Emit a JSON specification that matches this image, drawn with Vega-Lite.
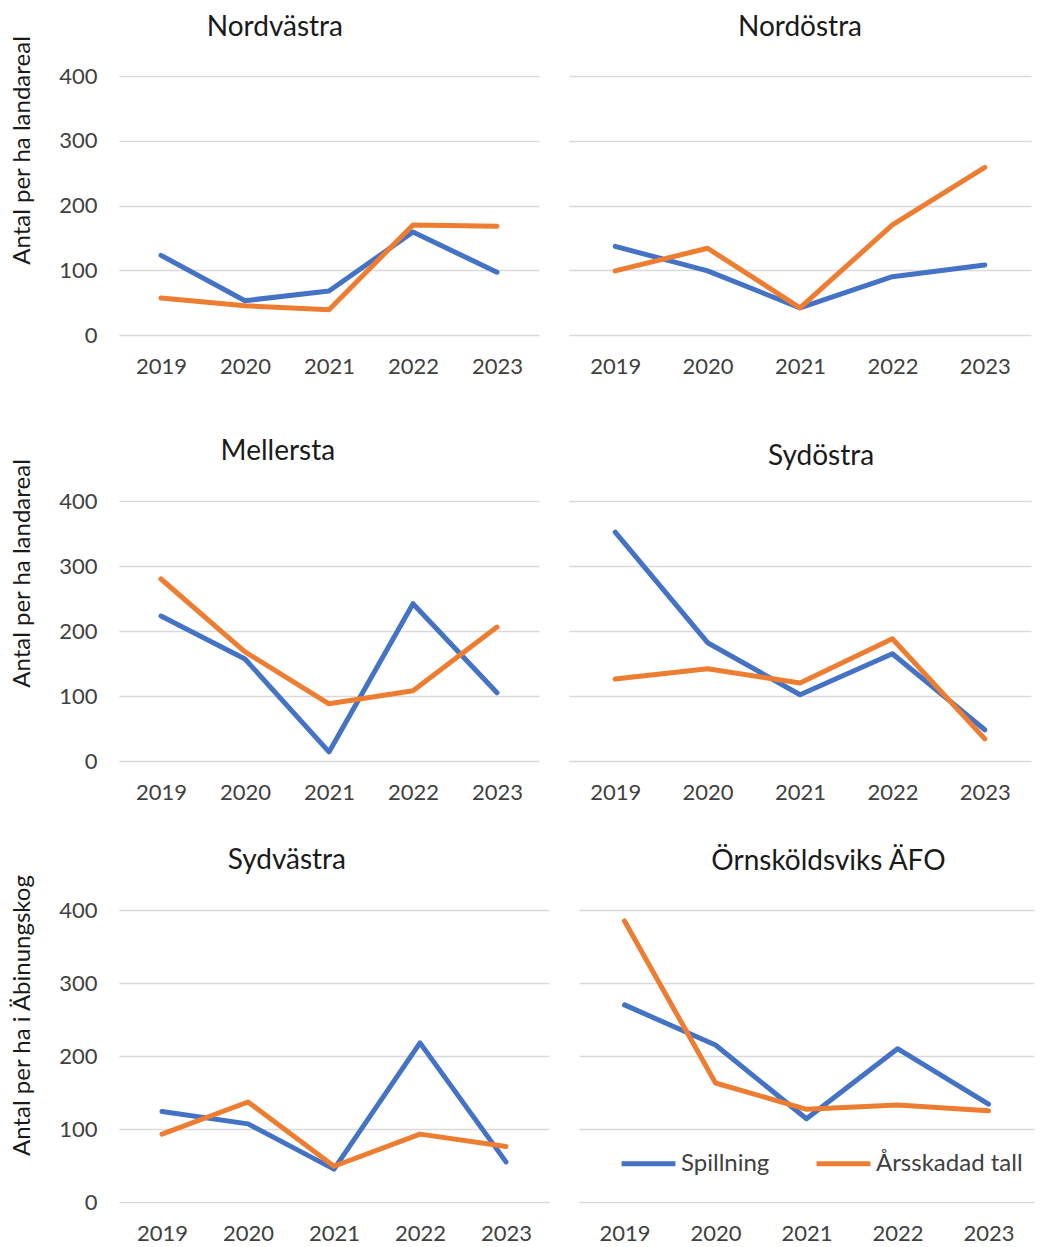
{
  "$schema": "https://vega.github.io/schema/vega-lite/v6.json",
  "padding": {"left": 10, "top": 14, "right": 5, "bottom": 0},
  "background": "white",
  "datasets": {
    "d": [
      {"region": "Nordvästra", "year": "2019", "serie": "Spillning", "value": 123},
      {"region": "Nordvästra", "year": "2020", "serie": "Spillning", "value": 53},
      {"region": "Nordvästra", "year": "2021", "serie": "Spillning", "value": 68},
      {"region": "Nordvästra", "year": "2022", "serie": "Spillning", "value": 159},
      {"region": "Nordvästra", "year": "2023", "serie": "Spillning", "value": 97},
      {"region": "Nordvästra", "year": "2019", "serie": "Årsskadad tall", "value": 57},
      {"region": "Nordvästra", "year": "2020", "serie": "Årsskadad tall", "value": 45},
      {"region": "Nordvästra", "year": "2021", "serie": "Årsskadad tall", "value": 39},
      {"region": "Nordvästra", "year": "2022", "serie": "Årsskadad tall", "value": 170},
      {"region": "Nordvästra", "year": "2023", "serie": "Årsskadad tall", "value": 168},
      {"region": "Nordöstra", "year": "2019", "serie": "Spillning", "value": 137},
      {"region": "Nordöstra", "year": "2020", "serie": "Spillning", "value": 99},
      {"region": "Nordöstra", "year": "2021", "serie": "Spillning", "value": 42},
      {"region": "Nordöstra", "year": "2022", "serie": "Spillning", "value": 90},
      {"region": "Nordöstra", "year": "2023", "serie": "Spillning", "value": 108},
      {"region": "Nordöstra", "year": "2019", "serie": "Årsskadad tall", "value": 99},
      {"region": "Nordöstra", "year": "2020", "serie": "Årsskadad tall", "value": 134},
      {"region": "Nordöstra", "year": "2021", "serie": "Årsskadad tall", "value": 42},
      {"region": "Nordöstra", "year": "2022", "serie": "Årsskadad tall", "value": 170},
      {"region": "Nordöstra", "year": "2023", "serie": "Årsskadad tall", "value": 259},
      {"region": "Mellersta", "year": "2019", "serie": "Spillning", "value": 223},
      {"region": "Mellersta", "year": "2020", "serie": "Spillning", "value": 157},
      {"region": "Mellersta", "year": "2021", "serie": "Spillning", "value": 14},
      {"region": "Mellersta", "year": "2022", "serie": "Spillning", "value": 242},
      {"region": "Mellersta", "year": "2023", "serie": "Spillning", "value": 105},
      {"region": "Mellersta", "year": "2019", "serie": "Årsskadad tall", "value": 280},
      {"region": "Mellersta", "year": "2020", "serie": "Årsskadad tall", "value": 168},
      {"region": "Mellersta", "year": "2021", "serie": "Årsskadad tall", "value": 88},
      {"region": "Mellersta", "year": "2022", "serie": "Årsskadad tall", "value": 108},
      {"region": "Mellersta", "year": "2023", "serie": "Årsskadad tall", "value": 206},
      {"region": "Sydöstra", "year": "2019", "serie": "Spillning", "value": 352},
      {"region": "Sydöstra", "year": "2020", "serie": "Spillning", "value": 182},
      {"region": "Sydöstra", "year": "2021", "serie": "Spillning", "value": 102},
      {"region": "Sydöstra", "year": "2022", "serie": "Spillning", "value": 165},
      {"region": "Sydöstra", "year": "2023", "serie": "Spillning", "value": 48},
      {"region": "Sydöstra", "year": "2019", "serie": "Årsskadad tall", "value": 126},
      {"region": "Sydöstra", "year": "2020", "serie": "Årsskadad tall", "value": 142},
      {"region": "Sydöstra", "year": "2021", "serie": "Årsskadad tall", "value": 120},
      {"region": "Sydöstra", "year": "2022", "serie": "Årsskadad tall", "value": 188},
      {"region": "Sydöstra", "year": "2023", "serie": "Årsskadad tall", "value": 34},
      {"region": "Sydvästra", "year": "2019", "serie": "Spillning", "value": 124},
      {"region": "Sydvästra", "year": "2020", "serie": "Spillning", "value": 107},
      {"region": "Sydvästra", "year": "2021", "serie": "Spillning", "value": 45},
      {"region": "Sydvästra", "year": "2022", "serie": "Spillning", "value": 218},
      {"region": "Sydvästra", "year": "2023", "serie": "Spillning", "value": 55},
      {"region": "Sydvästra", "year": "2019", "serie": "Årsskadad tall", "value": 93},
      {"region": "Sydvästra", "year": "2020", "serie": "Årsskadad tall", "value": 137},
      {"region": "Sydvästra", "year": "2021", "serie": "Årsskadad tall", "value": 49},
      {"region": "Sydvästra", "year": "2022", "serie": "Årsskadad tall", "value": 93},
      {"region": "Sydvästra", "year": "2023", "serie": "Årsskadad tall", "value": 76},
      {"region": "Örnsköldsviks ÄFO", "year": "2019", "serie": "Spillning", "value": 270},
      {"region": "Örnsköldsviks ÄFO", "year": "2020", "serie": "Spillning", "value": 215},
      {"region": "Örnsköldsviks ÄFO", "year": "2021", "serie": "Spillning", "value": 114},
      {"region": "Örnsköldsviks ÄFO", "year": "2022", "serie": "Spillning", "value": 210},
      {"region": "Örnsköldsviks ÄFO", "year": "2023", "serie": "Spillning", "value": 134},
      {"region": "Örnsköldsviks ÄFO", "year": "2019", "serie": "Årsskadad tall", "value": 385},
      {"region": "Örnsköldsviks ÄFO", "year": "2020", "serie": "Årsskadad tall", "value": 163},
      {"region": "Örnsköldsviks ÄFO", "year": "2021", "serie": "Årsskadad tall", "value": 127},
      {"region": "Örnsköldsviks ÄFO", "year": "2022", "serie": "Årsskadad tall", "value": 133},
      {"region": "Örnsköldsviks ÄFO", "year": "2023", "serie": "Årsskadad tall", "value": 125}
    ]
  },
  "data": {"name": "d"},
  "spacing": 43,
  "resolve": {"scale": {"color": "independent", "x": "independent", "y": "independent"}},
  "vconcat": [
    {
      "spacing": 61,
      "resolve": {"scale": {"color": "independent", "x": "independent", "y": "independent"}},
      "vconcat": [
        {
          "spacing": 30,
          "resolve": {"scale": {"color": "independent", "x": "independent", "y": "independent"}},
          "hconcat": [
            {
              "width": 420, "height": 259,
              "title": {"text": "Nordvästra", "frame": "bounds", "offset": -7},
              "transform": [{"filter": "datum.region === 'Nordvästra'"}],
              "mark": {"type": "line", "strokeWidth": 5, "strokeCap": "round", "strokeJoin": "round"},
              "encoding": {
                "x": {"field": "year", "type": "ordinal", "scale": {"type": "point", "padding": 0.5}, "axis": {"title": null}},
                "y": {"field": "value", "type": "quantitative", "scale": {"domain": [0, 400]}, "axis": {"title": "Antal per ha landareal", "titleY": 74, "values": [0, 100, 200, 300, 400]}},
                "color": {"field": "serie", "type": "nominal", "scale": {"domain": ["Spillning", "Årsskadad tall"], "range": ["#4472C4", "#ED7D31"]}, "legend": null}
              }
            },
            {
              "width": 462, "height": 259,
              "title": {"text": "Nordöstra", "offset": 34},
              "transform": [{"filter": "datum.region === 'Nordöstra'"}],
              "mark": {"type": "line", "strokeWidth": 5, "strokeCap": "round", "strokeJoin": "round"},
              "encoding": {
                "x": {"field": "year", "type": "ordinal", "scale": {"type": "point", "padding": 0.5}, "axis": {"title": null}},
                "y": {"field": "value", "type": "quantitative", "scale": {"domain": [0, 400]}, "axis": {"title": null, "labels": false, "values": [0, 100, 200, 300, 400]}},
                "color": {"field": "serie", "type": "nominal", "scale": {"domain": ["Spillning", "Årsskadad tall"], "range": ["#4472C4", "#ED7D31"]}, "legend": null}
              }
            }
          ]
        },
        {
          "spacing": 30,
          "resolve": {"scale": {"color": "independent", "x": "independent", "y": "independent"}},
          "hconcat": [
            {
              "width": 420, "height": 260,
              "title": {"text": "Mellersta", "frame": "bounds", "offset": -8, "dx": 3},
              "transform": [{"filter": "datum.region === 'Mellersta'"}],
              "mark": {"type": "line", "strokeWidth": 5, "strokeCap": "round", "strokeJoin": "round"},
              "encoding": {
                "x": {"field": "year", "type": "ordinal", "scale": {"type": "point", "padding": 0.5}, "axis": {"title": null}},
                "y": {"field": "value", "type": "quantitative", "scale": {"domain": [0, 400]}, "axis": {"title": "Antal per ha landareal", "titleY": 72, "values": [0, 100, 200, 300, 400]}},
                "color": {"field": "serie", "type": "nominal", "scale": {"domain": ["Spillning", "Årsskadad tall"], "range": ["#4472C4", "#ED7D31"]}, "legend": null}
              }
            },
            {
              "width": 462, "height": 260,
              "title": {"text": "Sydöstra", "dx": 21, "offset": 30},
              "transform": [{"filter": "datum.region === 'Sydöstra'"}],
              "mark": {"type": "line", "strokeWidth": 5, "strokeCap": "round", "strokeJoin": "round"},
              "encoding": {
                "x": {"field": "year", "type": "ordinal", "scale": {"type": "point", "padding": 0.5}, "axis": {"title": null}},
                "y": {"field": "value", "type": "quantitative", "scale": {"domain": [0, 400]}, "axis": {"title": null, "labels": false, "values": [0, 100, 200, 300, 400]}},
                "color": {"field": "serie", "type": "nominal", "scale": {"domain": ["Spillning", "Årsskadad tall"], "range": ["#4472C4", "#ED7D31"]}, "legend": null}
              }
            }
          ]
        }
      ]
    },
    {
      "spacing": 30,
      "resolve": {"scale": {"color": "independent", "x": "independent", "y": "independent"}},
      "hconcat": [
        {
          "width": 430, "height": 292,
          "title": {"text": "Sydvästra", "frame": "bounds", "dx": 7, "offset": -1},
          "transform": [{"filter": "datum.region === 'Sydvästra'"}],
          "mark": {"type": "line", "strokeWidth": 5, "strokeCap": "round", "strokeJoin": "round"},
          "encoding": {
            "x": {"field": "year", "type": "ordinal", "scale": {"type": "point", "padding": 0.5}, "axis": {"title": null}},
            "y": {"field": "value", "type": "quantitative", "scale": {"domain": [0, 400]}, "axis": {"title": "Antal per ha i Äbinungskog", "titleY": 105, "values": [0, 100, 200, 300, 400]}},
            "color": {"field": "serie", "type": "nominal", "scale": {"domain": ["Spillning", "Årsskadad tall"], "range": ["#4472C4", "#ED7D31"]}, "legend": null}
          }
        },
        {
          "width": 455, "height": 292,
          "title": {"text": "Örnsköldsviks ÄFO", "dx": 22, "offset": 34},
          "transform": [{"filter": "datum.region === 'Örnsköldsviks ÄFO'"}],
          "mark": {"type": "line", "strokeWidth": 5, "strokeCap": "round", "strokeJoin": "round"},
          "encoding": {
            "x": {"field": "year", "type": "ordinal", "scale": {"type": "point", "padding": 0.5}, "axis": {"title": null}},
            "y": {"field": "value", "type": "quantitative", "scale": {"domain": [0, 400]}, "axis": {"title": null, "labels": false, "values": [0, 100, 200, 300, 400]}},
            "color": {"field": "serie", "type": "nominal", "scale": {"domain": ["Spillning", "Årsskadad tall"], "range": ["#4472C4", "#ED7D31"]},
              "legend": {"orient": "none", "legendX": 40, "legendY": 224, "direction": "horizontal", "title": null, "symbolType": "stroke", "symbolSize": 2900, "symbolStrokeWidth": 5, "labelFontSize": 24, "labelColor": "#404040", "labelFont": "Lato", "columnPadding": 36, "labelOffset": 3, "symbolOffset": 0}}
          }
        }
      ]
    }
  ],
  "config": {
    "font": "Lato",
    "view": {"stroke": null},
    "title": {"fontSize": 28, "fontWeight": "normal", "color": "#1a1a1a", "font": "Lato", "offset": 35, "frame": "group", "anchor": "middle"},
    "axis": {"labelFont": "Lato", "labelFontSize": 22, "labelColor": "#404040", "ticks": false, "domain": false, "titleFont": "Lato", "titleFontSize": 24, "titleFontWeight": "normal", "titleColor": "#1a1a1a"},
    "axisY": {"gridColor": "#D9D9D9", "gridWidth": 1.5, "labelPadding": 22, "titlePadding": 24},
    "axisX": {"grid": false, "labelAngle": 0, "labelPadding": 21}
  }
}
